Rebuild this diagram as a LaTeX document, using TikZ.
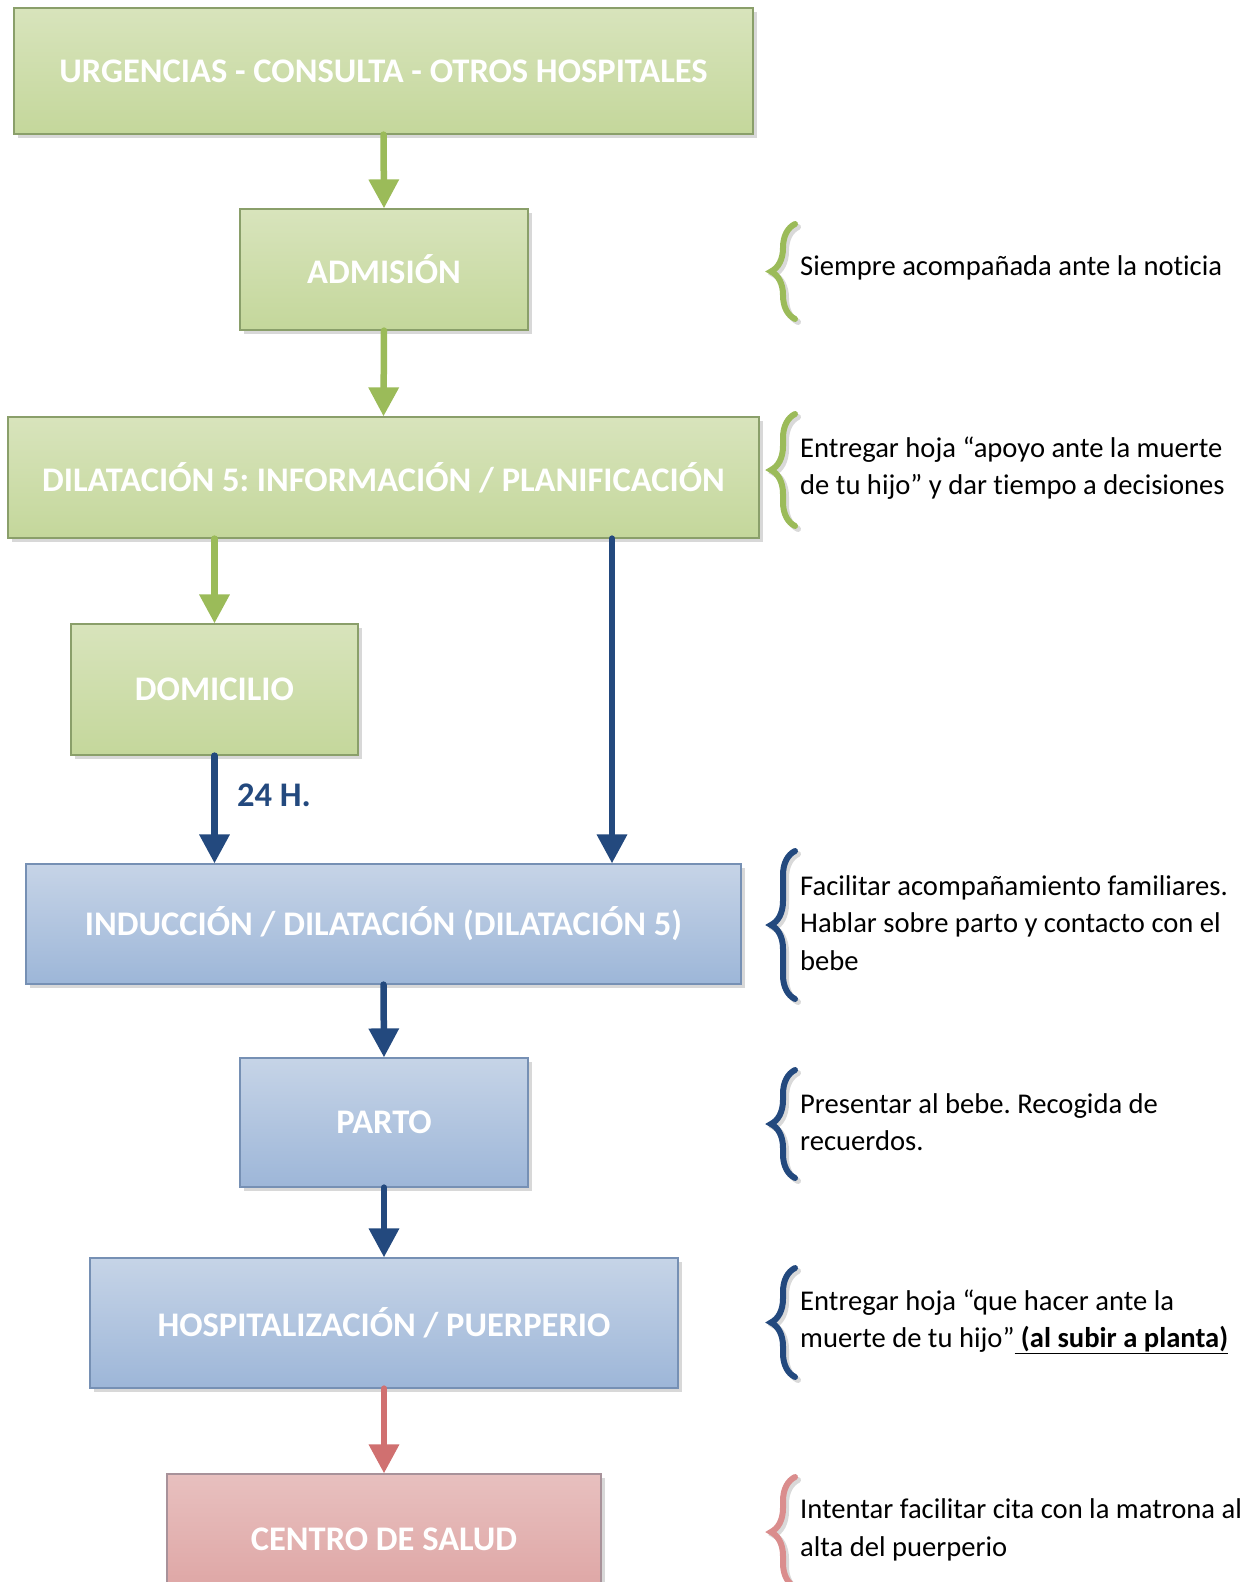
\documentclass[tikz,border=0pt]{standalone}
\usepackage{fontspec}
\setmainfont{Carlito}[Ligatures=NoCommon]
\usepackage{tikz}
\usetikzlibrary{arrows.meta,positioning,shadows,decorations.pathreplacing}
\definecolor{grntop}{HTML}{D8E4BC}
\definecolor{grnbot}{HTML}{C4D79B}
\definecolor{grnline}{HTML}{8A9F6A}
\definecolor{grnarr}{HTML}{9BBB59}
\definecolor{blutop}{HTML}{C6D4E7}
\definecolor{blubot}{HTML}{9DB6D8}
\definecolor{bluline}{HTML}{7690B4}
\definecolor{bluarr}{HTML}{23497E}
\definecolor{redtop}{HTML}{E8C0BF}
\definecolor{redbot}{HTML}{DDA3A2}
\definecolor{redline}{HTML}{A8929A}
\definecolor{redarr}{HTML}{D07070}
\frenchspacing

\begin{document}
\begin{tikzpicture}[x=1pt,y=-1pt,
  box/.style={rectangle,draw=#1,line width=1.2pt,text=white,inner sep=0pt,
    font=\fontsize{34.5}{40}\selectfont\bfseries,
    drop shadow={shadow xshift=4pt,shadow yshift=-4pt,fill=black!30}},
  greenbox/.style={box=grnline,top color=grntop,bottom color=grnbot},
  bluebox/.style={box=bluline,top color=blutop,bottom color=blubot},
  pinkbox/.style={box=redline,top color=redtop,bottom color=redbot},
  arr/.style={line width=6.5pt,line cap=round,-{Triangle[width=29pt,length=29pt]}},
  note/.style={anchor=west,align=left,inner sep=0pt,
    font=\fontsize{28.6}{37.3}\selectfont},
  curly/.style={decorate,decoration={brace,amplitude=24pt},
    line width=6pt,line cap=round}]
  % page frame (in px of the reference)
  \path[use as bounding box] (0,0) rectangle (1255,1582);
  \clip (0,0) rectangle (1255,1582);
  % --- Boxes ---
  \node[greenbox,minimum width=739,minimum height=126] (urg) at (383.5,71)
    {URGENCIAS - CONSULTA - OTROS HOSPITALES};
  \node[greenbox,minimum width=288,minimum height=121] (adm) at (384,269.5)
    {ADMISIÓN};
  \node[greenbox,minimum width=751,minimum height=121] (dil) at (383.5,477.5)
    {DILATACIÓN 5: INFORMACIÓN / PLANIFICACIÓN};
  \node[greenbox,minimum width=287,minimum height=131] (dom) at (214.5,689.5)
    {DOMICILIO};
  \node[bluebox,minimum width=715,minimum height=120] (ind) at (383.5,924)
    {INDUCCIÓN / DILATACIÓN (DILATACIÓN 5)};
  \node[bluebox,minimum width=288,minimum height=129] (parto) at (384,1122.5)
    {PARTO};
  \node[bluebox,minimum width=588,minimum height=130] (hosp) at (384,1323)
    {HOSPITALIZACIÓN / PUERPERIO};
  \node[pinkbox,minimum width=434,minimum height=130] (cs) at (384,1539)
    {CENTRO DE SALUD};
  % --- Arrows ---
  \coordinate (rt) at (612,0);
  \draw[arr,grnarr] (urg.south) -- (adm.north);
  \draw[arr,grnarr] (adm.south) -- (dil.north);
  \draw[arr,grnarr] (dil.south -| dom.north) -- (dom.north);
  \draw[arr,bluarr] (dom.south) -- (ind.north -| dom.south)
    node[pos=0.37,anchor=west,xshift=16pt,text=bluarr,
      font=\fontsize{34.5}{40}\selectfont\bfseries] (h24) {24 H.};
  \draw[arr,bluarr] (dil.south -| rt) -- (ind.north -| rt);
  \draw[arr,bluarr] (ind.south) -- (parto.north);
  \draw[arr,bluarr] (parto.south) -- (hosp.north);
  \draw[arr,redarr] (hosp.south) -- (cs.north);
  % --- Notes with braces ---
  % Note 1: admision
  \draw[curly,black!15] (798,322) -- (798,227);
  \draw[curly,grnarr] (795,319) -- (795,224);
  \node[note] (n1) at (800,268) {Siempre acompañada ante la noticia};
  % Note 2: dilatacion 5
  \draw[curly,black!15] (798,529) -- (798,417);
  \draw[curly,grnarr] (795,526) -- (795,414);
  \node[note] (n2) at (800,468)
    {Entregar hoja “apoyo ante la muerte\\de tu hijo” y dar tiempo a decisiones};
  % Note 3: induccion
  \draw[curly,black!15] (798,1002) -- (798,854);
  \draw[curly,bluarr] (795,999) -- (795,851);
  \node[note] (n3) at (800,923)
    {Facilitar acompañamiento familiares.\\Hablar sobre parto y contacto con el\\bebe};
  % Note 4: parto
  \draw[curly,black!15] (798,1181) -- (798,1073);
  \draw[curly,bluarr] (795,1178) -- (795,1070);
  \node[note] (n4) at (800,1122)
    {Presentar al bebe. Recogida de\\recuerdos.};
  % Note 5: hospitalizacion
  \draw[curly,black!15] (798,1380) -- (798,1271);
  \draw[curly,bluarr] (795,1377) -- (795,1268);
  \node[note] (n5) at (800,1322)
    {Entregar hoja “que hacer ante la\\muerte de tu hijo”\underline{\textbf{~(al subir a planta)}}};
  % Note 6: centro de salud
  \draw[curly,black!15] (798,1590) -- (798,1480);
  \draw[curly,redarr!80] (795,1587) -- (795,1477);
  \node[note] (n6) at (800,1530)
    {Intentar facilitar cita con la matrona al\\alta del puerperio};
\end{tikzpicture}
\end{document}
